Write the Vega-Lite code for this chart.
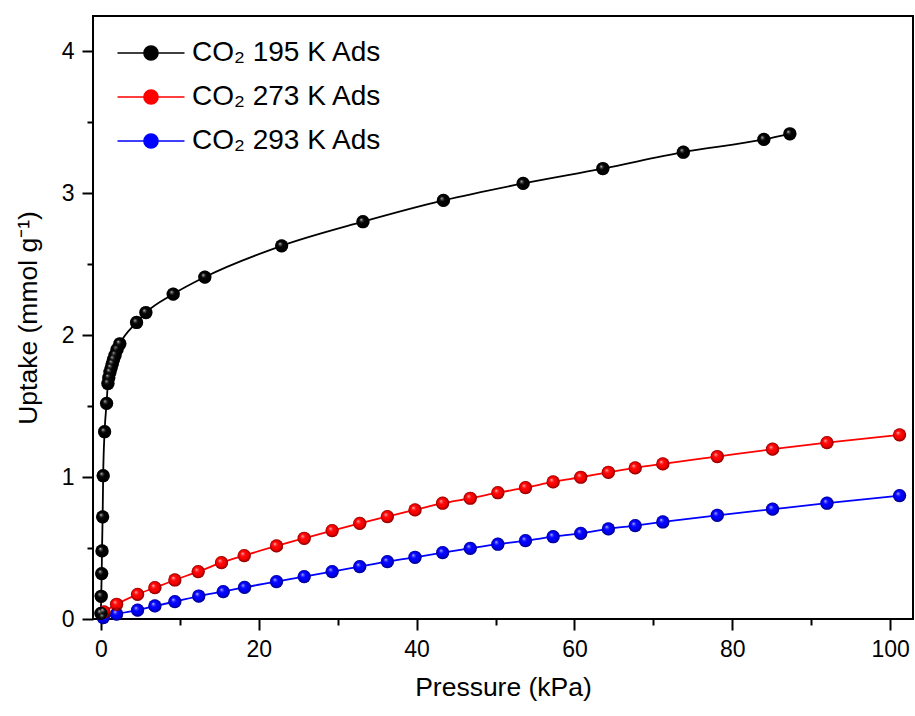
{
  "$schema": "https://vega.github.io/schema/vega-lite/v6.json",
  "width": 820,
  "height": 603,
  "autosize": {"type": "none"},
  "padding": {"left": 93, "top": 16, "right": 2, "bottom": 97},
  "background": "#ffffff",
  "datasets": {
    "isotherms": [
      {"s": "CO₂ 293 K Ads", "i": 0, "p": 0.3, "u": 0.01},
      {"s": "CO₂ 293 K Ads", "i": 1, "p": 1.99, "u": 0.035},
      {"s": "CO₂ 293 K Ads", "i": 2, "p": 4.65, "u": 0.063},
      {"s": "CO₂ 293 K Ads", "i": 3, "p": 6.84, "u": 0.092},
      {"s": "CO₂ 293 K Ads", "i": 4, "p": 9.37, "u": 0.122},
      {"s": "CO₂ 293 K Ads", "i": 5, "p": 12.4, "u": 0.162},
      {"s": "CO₂ 293 K Ads", "i": 6, "p": 15.5, "u": 0.193},
      {"s": "CO₂ 293 K Ads", "i": 7, "p": 18.2, "u": 0.223},
      {"s": "CO₂ 293 K Ads", "i": 8, "p": 22.25, "u": 0.263},
      {"s": "CO₂ 293 K Ads", "i": 9, "p": 25.76, "u": 0.299},
      {"s": "CO₂ 293 K Ads", "i": 10, "p": 29.3, "u": 0.334},
      {"s": "CO₂ 293 K Ads", "i": 11, "p": 32.8, "u": 0.369},
      {"s": "CO₂ 293 K Ads", "i": 12, "p": 36.3, "u": 0.404},
      {"s": "CO₂ 293 K Ads", "i": 13, "p": 39.8, "u": 0.435},
      {"s": "CO₂ 293 K Ads", "i": 14, "p": 43.3, "u": 0.468},
      {"s": "CO₂ 293 K Ads", "i": 15, "p": 46.8, "u": 0.498},
      {"s": "CO₂ 293 K Ads", "i": 16, "p": 50.3, "u": 0.527},
      {"s": "CO₂ 293 K Ads", "i": 17, "p": 53.8, "u": 0.552},
      {"s": "CO₂ 293 K Ads", "i": 18, "p": 57.3, "u": 0.58},
      {"s": "CO₂ 293 K Ads", "i": 19, "p": 60.8, "u": 0.604},
      {"s": "CO₂ 293 K Ads", "i": 20, "p": 64.3, "u": 0.635},
      {"s": "CO₂ 293 K Ads", "i": 21, "p": 67.7, "u": 0.658},
      {"s": "CO₂ 293 K Ads", "i": 22, "p": 71.2, "u": 0.684},
      {"s": "CO₂ 293 K Ads", "i": 23, "p": 78.1, "u": 0.731},
      {"s": "CO₂ 293 K Ads", "i": 24, "p": 85.1, "u": 0.774},
      {"s": "CO₂ 293 K Ads", "i": 25, "p": 92.0, "u": 0.816},
      {"s": "CO₂ 293 K Ads", "i": 26, "p": 101.2, "u": 0.87},

      {"s": "CO₂ 273 K Ads", "i": 0, "p": 0.4, "u": 0.05},
      {"s": "CO₂ 273 K Ads", "i": 1, "p": 1.99, "u": 0.104},
      {"s": "CO₂ 273 K Ads", "i": 2, "p": 4.65, "u": 0.174},
      {"s": "CO₂ 273 K Ads", "i": 3, "p": 6.84, "u": 0.221},
      {"s": "CO₂ 273 K Ads", "i": 4, "p": 9.37, "u": 0.275},
      {"s": "CO₂ 273 K Ads", "i": 5, "p": 12.33, "u": 0.334},
      {"s": "CO₂ 273 K Ads", "i": 6, "p": 15.28, "u": 0.397},
      {"s": "CO₂ 273 K Ads", "i": 7, "p": 18.16, "u": 0.447},
      {"s": "CO₂ 273 K Ads", "i": 8, "p": 22.25, "u": 0.515},
      {"s": "CO₂ 273 K Ads", "i": 9, "p": 25.76, "u": 0.569},
      {"s": "CO₂ 273 K Ads", "i": 10, "p": 29.3, "u": 0.623},
      {"s": "CO₂ 273 K Ads", "i": 11, "p": 32.8, "u": 0.674},
      {"s": "CO₂ 273 K Ads", "i": 12, "p": 36.3, "u": 0.722},
      {"s": "CO₂ 273 K Ads", "i": 13, "p": 39.8, "u": 0.769},
      {"s": "CO₂ 273 K Ads", "i": 14, "p": 43.3, "u": 0.816},
      {"s": "CO₂ 273 K Ads", "i": 15, "p": 46.8, "u": 0.851},
      {"s": "CO₂ 273 K Ads", "i": 16, "p": 50.3, "u": 0.89},
      {"s": "CO₂ 273 K Ads", "i": 17, "p": 53.8, "u": 0.926},
      {"s": "CO₂ 273 K Ads", "i": 18, "p": 57.3, "u": 0.966},
      {"s": "CO₂ 273 K Ads", "i": 19, "p": 60.8, "u": 0.999},
      {"s": "CO₂ 273 K Ads", "i": 20, "p": 64.3, "u": 1.034},
      {"s": "CO₂ 273 K Ads", "i": 21, "p": 67.7, "u": 1.065},
      {"s": "CO₂ 273 K Ads", "i": 22, "p": 71.2, "u": 1.093},
      {"s": "CO₂ 273 K Ads", "i": 23, "p": 78.1, "u": 1.145},
      {"s": "CO₂ 273 K Ads", "i": 24, "p": 85.1, "u": 1.197},
      {"s": "CO₂ 273 K Ads", "i": 25, "p": 92.0, "u": 1.243},
      {"s": "CO₂ 273 K Ads", "i": 26, "p": 101.2, "u": 1.298},

      {"s": "CO₂ 195 K Ads", "i": 0, "p": 0.0, "u": 0.04},
      {"s": "CO₂ 195 K Ads", "i": 1, "p": 0.04, "u": 0.16},
      {"s": "CO₂ 195 K Ads", "i": 2, "p": 0.1, "u": 0.32},
      {"s": "CO₂ 195 K Ads", "i": 3, "p": 0.14, "u": 0.48},
      {"s": "CO₂ 195 K Ads", "i": 4, "p": 0.22, "u": 0.72},
      {"s": "CO₂ 195 K Ads", "i": 5, "p": 0.29, "u": 1.01},
      {"s": "CO₂ 195 K Ads", "i": 6, "p": 0.47, "u": 1.32},
      {"s": "CO₂ 195 K Ads", "i": 7, "p": 0.72, "u": 1.52},
      {"s": "CO₂ 195 K Ads", "i": 8, "p": 0.89, "u": 1.66},
      {"s": "CO₂ 195 K Ads", "i": 9, "p": 1.0, "u": 1.70},
      {"s": "CO₂ 195 K Ads", "i": 10, "p": 1.15, "u": 1.74},
      {"s": "CO₂ 195 K Ads", "i": 11, "p": 1.3, "u": 1.77},
      {"s": "CO₂ 195 K Ads", "i": 12, "p": 1.45, "u": 1.80},
      {"s": "CO₂ 195 K Ads", "i": 13, "p": 1.6, "u": 1.83},
      {"s": "CO₂ 195 K Ads", "i": 14, "p": 1.8, "u": 1.86},
      {"s": "CO₂ 195 K Ads", "i": 15, "p": 2.05, "u": 1.90},
      {"s": "CO₂ 195 K Ads", "i": 16, "p": 2.4, "u": 1.94},
      {"s": "CO₂ 195 K Ads", "i": 17, "p": 4.52, "u": 2.09},
      {"s": "CO₂ 195 K Ads", "i": 18, "p": 5.7, "u": 2.16},
      {"s": "CO₂ 195 K Ads", "i": 19, "p": 9.16, "u": 2.29},
      {"s": "CO₂ 195 K Ads", "i": 20, "p": 13.17, "u": 2.41},
      {"s": "CO₂ 195 K Ads", "i": 21, "p": 22.9, "u": 2.63},
      {"s": "CO₂ 195 K Ads", "i": 22, "p": 33.2, "u": 2.80},
      {"s": "CO₂ 195 K Ads", "i": 23, "p": 43.4, "u": 2.95},
      {"s": "CO₂ 195 K Ads", "i": 24, "p": 53.5, "u": 3.07},
      {"s": "CO₂ 195 K Ads", "i": 25, "p": 63.6, "u": 3.175},
      {"s": "CO₂ 195 K Ads", "i": 26, "p": 73.8, "u": 3.29},
      {"s": "CO₂ 195 K Ads", "i": 27, "p": 84.0, "u": 3.38},
      {"s": "CO₂ 195 K Ads", "i": 28, "p": 87.3, "u": 3.42}
    ]
  },
  "data": {"name": "isotherms"},
  "layer": [
    {
      "mark": {"type": "line", "strokeWidth": 1.8, "interpolate": "monotone"},
      "encoding": {
        "x": {
          "field": "p", "type": "quantitative",
          "scale": {"domain": [-1.0, 102.9], "nice": false, "zero": false},
          "axis": {
            "orient": "bottom", "values": [0, 20, 40, 60, 80, 100],
            "tickSize": 11, "labelPadding": 8, "title": "Pressure (kPa)", "titlePadding": 13
          }
        },
        "y": {
          "field": "u", "type": "quantitative",
          "scale": {"domain": [0, 4.25], "nice": false},
          "axis": {
            "orient": "left", "values": [0, 1, 2, 3, 4],
            "tickSize": 11, "labelPadding": 8, "title": "Uptake (mmol g⁻¹)", "titlePadding": 19
          }
        },
        "order": {"field": "i", "type": "quantitative"},
        "color": {
          "field": "s", "type": "nominal",
          "scale": {
            "domain": ["CO₂ 195 K Ads", "CO₂ 273 K Ads", "CO₂ 293 K Ads"],
            "range": ["#000000", "#ff0000", "#0000ff"]
          },
          "legend": {
            "orient": "none", "legendX": 40, "legendY": 19,
            "title": null, "padding": 0, "rowPadding": 12,
            "symbolType": "M-2,0H2M-0.42,0A0.42,0.42,0,1,0,0.42,0A0.42,0.42,0,1,0,-0.42,0Z",
            "symbolSize": 1122, "symbolStrokeWidth": 1.6,
            "labelFont": "Liberation Sans", "labelFontSize": 28, "labelColor": "#000",
            "labelOffset": 23, "labelLimit": 400,
            "encode": {
              "symbols": {
                "update": {
                  "fill": {"scale": "color", "field": "value"},
                  "stroke": {"scale": "color", "field": "value"},
                  "fillOpacity": {"value": 1}
                }
              }
            }
          }
        }
      }
    },
    {
      "mark": {"type": "point", "filled": true, "size": 175, "opacity": 1},
      "encoding": {
        "x": {"field": "p", "type": "quantitative", "axis": null},
        "y": {"field": "u", "type": "quantitative", "axis": null},
        "color": {"field": "s", "type": "nominal", "legend": null}
      }
    },
    {
      "mark": {
        "type": "point", "filled": true, "size": 175, "opacity": 1,
        "fill": {
          "gradient": "radial",
          "x1": 0.36, "y1": 0.33, "r1": 0,
          "x2": 0.5, "y2": 0.5, "r2": 0.5,
          "stops": [
            {"offset": 0, "color": "rgba(255,255,255,0.85)"},
            {"offset": 0.2, "color": "rgba(255,255,255,0.25)"},
            {"offset": 0.42, "color": "rgba(255,255,255,0)"},
            {"offset": 0.72, "color": "rgba(0,0,0,0.06)"},
            {"offset": 1, "color": "rgba(0,0,0,0.5)"}
          ]
        }
      },
      "encoding": {
        "x": {"field": "p", "type": "quantitative", "axis": null},
        "y": {"field": "u", "type": "quantitative", "axis": null}
      }
    },
    {
      "mark": {"type": "point", "opacity": 0},
      "encoding": {
        "x": {
          "field": "p", "type": "quantitative",
          "axis": {
            "orient": "bottom", "values": [10, 30, 50, 70, 90],
            "tickSize": 6, "labels": false, "title": null
          }
        },
        "y": {
          "field": "u", "type": "quantitative",
          "axis": {
            "orient": "left", "values": [0.5, 1.5, 2.5, 3.5],
            "tickSize": 6, "labels": false, "title": null
          }
        }
      }
    }
  ],
  "resolve": {"axis": {"x": "independent", "y": "independent"}},
  "config": {
    "view": {"stroke": "#000000", "strokeWidth": 2},
    "axis": {
      "grid": false, "domain": false,
      "labelFont": "Liberation Sans", "titleFont": "Liberation Sans",
      "labelFontSize": 23, "titleFontSize": 26.5, "titleFontWeight": "normal",
      "labelColor": "#000", "titleColor": "#000",
      "tickColor": "#000", "tickWidth": 2
    }
  }
}
